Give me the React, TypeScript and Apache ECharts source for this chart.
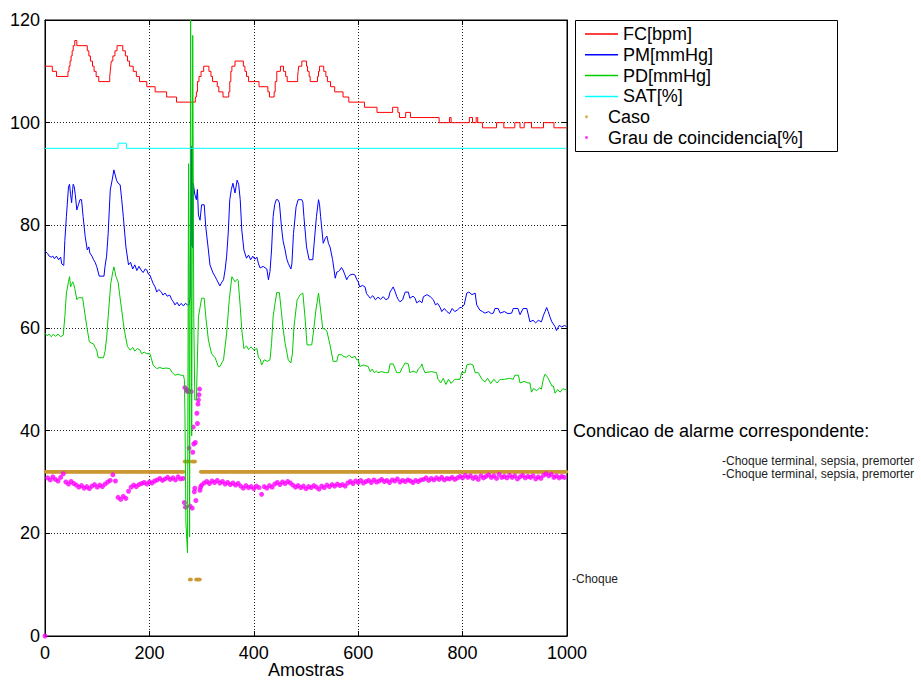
import React, { useEffect, useRef } from 'react';
import * as echarts from 'echarts';

const FONT = '"Liberation Sans", Arial, Helvetica, sans-serif';

// Axis ranges
const X_MIN = 0, X_MAX = 1000, X_INTERVAL = 200;
const Y_MIN = 0, Y_MAX = 120, Y_INTERVAL = 20;

const SERIES_NAMES = ['FC[bpm]', 'PM[mmHg]', 'PD[mmHg]', 'SAT[%]', 'Caso', 'Grau de coincidencia[%]'];

// FC: [sample, value held from this sample on]
const FC_STEPS: [number, number][] = [
  [0, 111], [14, 110], [22, 109], [44, 110], [46, 111], [48, 112], [50, 113], [52, 114], [54, 115], [57, 116], [61, 115],
  [81, 114], [84, 113], [87, 112], [91, 111], [94, 110], [98, 109], [103, 108], [124, 109], [125, 110], [126, 111],
  [127, 112], [130, 113], [134, 114], [138, 115], [149, 114], [154, 113], [158, 112], [162, 111], [169, 110], [175, 109],
  [181, 108], [195, 107], [211, 106], [233, 105], [252, 104], [288, 105], [290, 106], [292, 108], [295, 109], [299, 110],
  [304, 111], [314, 110], [318, 109], [321, 108], [330, 107], [333, 106], [341, 105], [352, 106], [354, 108], [356, 110],
  [358, 111], [364, 112], [380, 111], [383, 110], [386, 109], [390, 108], [410, 107], [427, 106], [430, 105], [439, 106],
  [441, 108], [444, 110], [451, 111], [457, 110], [461, 109], [464, 108], [484, 109], [485, 110], [486, 111], [492, 112],
  [501, 111], [503, 110], [506, 109], [508, 108], [522, 109], [524, 110], [526, 111], [534, 110], [538, 109], [541, 108],
  [547, 107], [555, 106], [571, 105], [582, 104], [612, 103], [636, 102], [666, 103], [676, 102], [679, 101], [691, 102],
  [700, 101], [755, 100], [775, 101], [778, 100], [813, 101], [819, 100], [826, 101], [829, 100], [838, 99], [865, 100],
  [879, 99], [900, 100], [910, 99], [918, 100], [932, 99], [955, 100], [975, 99], [999, 99],
];

// PM: [sample, value]
const PM_POINTS: [number, number][] = [
  [0, 75], [5, 74.5], [8, 74], [12, 73.8], [15, 74], [18, 73.5], [22, 74], [26, 73.3], [30, 73.8], [32, 72.5], [36, 72.2],
  [38, 77], [41, 81.7], [45, 87.5], [47, 88], [49, 86], [51, 84.4], [53, 87], [54, 88], [56, 87.5], [58, 86], [61, 83],
  [64, 84], [67, 85], [70, 85], [73, 81.7], [77, 77.8], [81, 75.2], [84, 75.8], [86, 74.6], [90, 74], [93, 73.3],
  [96, 72.8], [99, 72], [104, 70.1], [113, 70.1], [115, 72], [118, 74], [121, 78.4], [125, 86.9], [129, 89], [132, 90.8],
  [134, 90], [137, 88.8], [140, 88.2], [144, 87.9], [147, 85], [150, 81.7], [155, 75.8], [160, 72.3], [164, 72.8],
  [168, 71.5], [172, 72.3], [176, 71.2], [180, 72], [184, 71.3], [188, 70.8], [192, 71.5], [195, 71.3], [198, 70.5],
  [201, 70.3], [204, 69.5], [207, 68.7], [211, 68], [214, 67], [218, 67.5], [223, 67], [226, 66.4], [230, 66.8],
  [234, 66.2], [239, 66.4], [243, 65.5], [246, 65.1], [249, 64.5], [253, 65], [257, 64.3], [261, 64.8], [265, 64.3],
  [269, 64.8], [273, 64.5], [276, 64.5], [278, 66], [280, 95.4], [281, 76], [282, 95], [283, 75.6], [284, 88.2],
  [285, 88.2], [287, 86], [290, 85], [292, 87], [294, 82], [297, 81], [300, 84], [305, 84], [308, 79.7], [313, 75.2],
  [316, 72.3], [322, 70.7], [326, 70], [329, 69.4], [335, 68.2], [338, 68.8], [342, 69.4], [345, 71.3], [348, 74],
  [351, 78.5], [354, 85], [357, 87], [360, 88.2], [364, 86.3], [366, 87.5], [368, 88.8], [371, 88], [374, 85],
  [377, 79.1], [381, 75.2], [386, 73.6], [390, 74.2], [394, 73.3], [398, 74], [402, 73.4], [406, 73.8], [409, 72.5],
  [412, 71.7], [418, 72], [425, 71.5], [428, 69.4], [431, 71], [434, 75.2], [437, 81.7], [440, 84], [443, 85], [446, 85],
  [449, 84.4], [453, 79.7], [456, 77], [460, 75.2], [463, 73.5], [466, 72.6], [471, 71.5], [473, 72.5], [476, 78.4],
  [481, 83.6], [485, 85], [489, 85], [492, 85], [494, 84.5], [496, 81.7], [501, 75.8], [506, 73.3], [513, 73.3],
  [515, 75.8], [520, 81.7], [524, 85], [526, 84], [528, 81.7], [533, 76.5], [537, 77.5], [540, 77.9], [543, 76.5],
  [546, 75.8], [551, 73.3], [556, 69.7], [559, 70.9], [562, 71], [565, 71.3], [568, 71.8], [571, 71.3], [574, 70.5],
  [578, 69.4], [581, 70], [584, 70.3], [590, 70.5], [594, 70.3], [597, 69.5], [600, 69], [603, 68], [608, 68.3],
  [613, 68], [616, 66.7], [620, 66.2], [623, 65.8], [628, 66.3], [633, 65.5], [638, 66], [643, 65.6], [648, 66.1],
  [653, 65.5], [658, 65.8], [661, 67], [664, 67.5], [667, 68], [671, 67], [674, 66.1], [677, 65.5], [680, 65.1],
  [685, 65.5], [690, 67], [696, 67], [699, 65.8], [705, 66.2], [709, 65.8], [712, 64.9], [718, 65.3], [722, 64.9],
  [725, 66.1], [732, 66.5], [738, 66.1], [744, 65.5], [748, 64.5], [752, 64.8], [757, 64], [760, 63.2], [765, 63.8],
  [770, 63.2], [775, 62.8], [780, 63.8], [785, 63.2], [790, 63.5], [795, 64], [798, 64], [803, 64.5], [808, 66.8],
  [812, 67], [818, 66.5], [824, 66.8], [827, 64.5], [833, 63.5], [838, 63.2], [843, 62.9], [850, 63.2], [855, 62.8],
  [859, 62.9], [862, 63.8], [868, 63.8], [872, 62.9], [880, 63.2], [887, 62.8], [894, 62.9], [897, 63.8], [906, 63.8],
  [910, 62.6], [916, 63.8], [923, 63.8], [929, 61.2], [935, 61.5], [940, 61], [945, 61.5], [951, 61.2], [955, 62.5],
  [958, 63.2], [961, 64], [964, 63.2], [968, 62], [971, 61.2], [977, 60.3], [980, 59.5], [985, 60.5], [990, 60.2],
  [995, 60.5], [999, 60.3],
];

// PD: [sample, value]
const PD_POINTS: [number, number][] = [
  [0, 59], [4, 58.5], [8, 58.8], [12, 58.3], [16, 58.8], [20, 58.4], [25, 58.8], [30, 58.3], [35, 58.6], [38, 62.2],
  [41, 66.8], [45, 69], [47, 70], [49, 68], [51, 68.5], [53, 69], [55, 68.5], [57, 67.7], [61, 65.5], [64, 65.9],
  [72, 65.9], [75, 63.8], [80, 60.3], [85, 57.3], [90, 57], [93, 56.9], [96, 56.2], [99, 55.7], [102, 54.2], [112, 54.2],
  [115, 55.4], [118, 58], [121, 62.2], [126, 68.7], [130, 71], [132, 71.9], [134, 71], [136, 70], [140, 69], [143, 66.5],
  [147, 63.5], [150, 61], [153, 59], [158, 56.4], [163, 55.7], [168, 56.2], [172, 55.5], [177, 56], [182, 55.7],
  [185, 55], [190, 55.3], [195, 55], [201, 55], [204, 54], [207, 52.8], [214, 52.1], [220, 52.3], [226, 52.1],
  [232, 52.2], [239, 52.1], [243, 51.4], [249, 50.8], [255, 51], [260, 50.8], [265, 50.8], [267, 50], [268, 44],
  [270, 22], [273, 16.2], [275, 92], [276, 60], [277, 19.3], [279, 120], [281, 39], [283, 117], [285, 62], [287, 46],
  [290, 46], [294, 62.2], [297, 64], [300, 65.8], [305, 65.8], [308, 62.2], [313, 57.7], [319, 55], [326, 54.2],
  [332, 52.5], [335, 52.5], [342, 53.8], [348, 59], [353, 65.5], [358, 70], [361, 69.5], [364, 69], [368, 69.5],
  [370, 69.3], [374, 64.2], [377, 59.7], [381, 56], [386, 56.5], [390, 55.8], [395, 56.3], [400, 55.7], [406, 56],
  [409, 54.2], [412, 54], [415, 52.8], [420, 53.8], [426, 53.5], [431, 53.8], [434, 57], [437, 62.2], [441, 65],
  [444, 66.9], [449, 66.9], [453, 63], [456, 60], [460, 57], [466, 53.8], [471, 53.2], [474, 55], [477, 60.3],
  [483, 65.5], [486, 66], [489, 66.5], [494, 66.8], [498, 62.2], [502, 56.7], [511, 56.7], [514, 59], [519, 63.5],
  [524, 66.8], [528, 63.5], [532, 59.9], [536, 59.8], [540, 59.4], [546, 56.7], [552, 53.5], [559, 53.5], [562, 54.8],
  [568, 54.8], [571, 54.5], [577, 54.3], [583, 54.7], [588, 54.2], [594, 54.5], [597, 53.8], [600, 53.8], [603, 52.5],
  [610, 52.8], [619, 52.5], [623, 51.5], [627, 52], [631, 51.3], [635, 51.6], [638, 51.3], [645, 51.5], [652, 51.3],
  [658, 51.3], [661, 53], [667, 53], [671, 52], [674, 51.3], [680, 51.3], [684, 52.2], [686, 52.5], [690, 53.2],
  [696, 53], [699, 51.3], [705, 51.6], [712, 51.3], [715, 52], [720, 52.5], [722, 53], [725, 52], [728, 51.3],
  [740, 51.5], [750, 51.3], [753, 50], [758, 49.3], [763, 50.2], [768, 49], [773, 50], [778, 49.2], [785, 50],
  [789, 50], [795, 50], [798, 51.3], [805, 51.3], [808, 52.8], [815, 53], [820, 52.8], [824, 51.3], [830, 51.3],
  [837, 50], [843, 49.5], [848, 50.2], [854, 49.2], [860, 50], [866, 49.3], [872, 50], [880, 50], [890, 50.2],
  [897, 50], [900, 50.8], [907, 50.8], [910, 49.3], [918, 49.6], [925, 49.3], [929, 49.3], [932, 47.5], [936, 48.2],
  [942, 47.8], [947, 48.3], [951, 48.1], [955, 50.2], [958, 51], [962, 50.5], [964, 50.2], [971, 48.7], [974, 48.7],
  [977, 47.3], [982, 48], [987, 47.5], [992, 48.2], [996, 48], [999, 48],
];

// SAT: [sample, value held from this sample on]
const SAT_STEPS: [number, number][] = [[0, 95], [140, 96], [156, 95], [999, 95]];

// Caso: runs [first sample, last sample, value]
const CASO_RUNS: [number, number, number][] = [
  [1, 266, 32], [267, 276, 34], [277, 280, 11], [281, 288, 34], [289, 297, 11], [298, 999, 32],
];

// Grau de coincidencia: one reading every 5 samples before and after the event
const GRAU_SAMPLE_STEP = 5;
const GRAU_BEFORE_START = 5;
const GRAU_BEFORE: number[] = [
  30.8, 30.4, 31.0, 30.5, 30.2, 30.9, 31.6, 30.0, 29.6, 30.1, 29.7, 29.4, 29.0, 29.3, 28.8, 29.1, 28.7, 29.2, 29.5, 29.0,
  29.4, 29.1, 29.6, 30.0, 30.3, 31.4, 30.2, 27.0, 26.6, 27.2, 26.8, 28.2, 29.0, 29.4, 29.1, 29.5, 29.7, 29.9, 29.6, 30.0,
  29.8, 30.2, 30.4, 30.7, 30.3, 30.6, 30.9, 30.5, 30.8, 30.4, 31.0, 30.6, 30.7,
];
const GRAU_EVENT: [number, number][] = [
  [0, 0], [267, 26.0], [268, 48.4], [269, 25.1], [271, 48.0], [273, 47.6], [275, 47.8], [276, 36.6], [278, 25.3],
  [280, 47.6], [282, 24.9], [283, 35.8], [284, 40.7], [285, 37.4], [286, 28.1], [287, 28.8], [288, 37.7], [289, 26.4],
  [291, 43.4], [292, 41.4], [293, 45.2], [294, 46.0], [295, 47.0], [296, 48.1], [297, 28.4], [298, 29.0],
];
const GRAU_AFTER_START = 300;
const GRAU_AFTER: number[] = [
  29.4, 29.8, 30.1, 29.7, 30.2, 29.9, 30.3, 29.8, 30.1, 29.6, 29.9, 29.5, 29.8, 29.4, 29.7, 29.2, 28.8, 29.3, 28.9, 29.1,
  28.7, 29.2, 28.9, 27.6, 29.1, 28.8, 29.3, 29.0, 29.6, 29.9, 29.5, 30.0, 29.7, 30.1, 29.8, 29.4, 29.0, 29.3, 28.9, 29.2,
  28.7, 29.1, 28.9, 29.3, 29.0, 28.6, 29.2, 28.9, 29.4, 29.1, 29.5, 29.2, 29.6, 29.3, 29.5, 29.2, 29.8, 30.1, 29.7, 30.2,
  29.9, 30.3, 29.8, 30.1, 30.3, 29.9, 30.4, 30.0, 30.2, 30.5, 30.1, 30.3, 29.9, 30.4, 30.2, 30.6, 30.0, 30.3, 30.1, 30.4,
  30.2, 29.9, 30.3, 30.1, 30.4, 30.5, 30.8, 30.3, 30.7, 30.4, 30.8, 30.5, 30.9, 30.4, 30.7, 30.6, 30.9, 30.5, 30.8, 31.1,
  30.8, 31.3, 30.9, 31.2, 30.7, 31.0, 30.5, 31.2, 30.8, 31.1, 31.4, 30.9, 31.2, 30.7, 31.5, 30.9, 31.1, 30.8, 31.3, 30.9,
  31.2, 30.6, 31.0, 31.3, 30.8, 31.1, 30.9, 31.2, 30.6, 31.0, 30.7, 31.3, 31.6, 31.2, 31.5, 30.9, 31.2, 30.8, 31.1, 30.9,
];

// Annotations
const ALARM_TITLE = 'Condicao de alarme correspondente:';
const ALARM_LINES = ['-Choque terminal, sepsia, premorter', '-Choque terminal, sepsia, premorter'];
const ALARM_LOW = '-Choque';

const COLORS = ['#ff0000', '#0000ff', '#00cc00', '#00ffff', '#cc9933', '#ff00ff'];

function buildCaso(): [number, number][] {
  const out: [number, number][] = [];
  for (const [a, b, v] of CASO_RUNS) {
    for (let x = a; x <= b; x++) out.push([x, v]);
  }
  return out;
}

function buildGrau(): [number, number][] {
  const out: [number, number][] = [];
  GRAU_BEFORE.forEach((v, i) => out.push([GRAU_BEFORE_START + i * GRAU_SAMPLE_STEP, v]));
  GRAU_EVENT.forEach((p) => out.push(p));
  GRAU_AFTER.forEach((v, i) => out.push([GRAU_AFTER_START + i * GRAU_SAMPLE_STEP, v]));
  return out;
}

function smallText(text: string, x: number, y: number) {
  return {
    type: 'text', x, y,
    style: {
      text, fill: '#222', font: `12px ${FONT}`,
      textAlign: 'left', textVerticalAlign: 'middle', align: 'left', verticalAlign: 'middle',
    },
    silent: true,
  };
}

export default function App() {
  const ref = useRef<HTMLDivElement>(null);

  useEffect(() => {
    if (!ref.current) return;
    const chart = echarts.init(ref.current, undefined, { renderer: 'svg' });
    const textBase = { color: '#000', fontFamily: FONT, fontSize: 18 };
    const baseAxisX = {
      type: 'value' as const,
      min: X_MIN,
      max: X_MAX,
      interval: X_INTERVAL,
      axisLine: { show: true, onZero: false, lineStyle: { color: '#000', width: 1 } },
      axisTick: { show: true, inside: true, length: 5, lineStyle: { color: '#000', width: 1 } },
    };
    const baseAxisY = {
      type: 'value' as const,
      min: Y_MIN,
      max: Y_MAX,
      interval: Y_INTERVAL,
      axisLine: { show: true, onZero: false, lineStyle: { color: '#000', width: 1 } },
      axisTick: { show: true, inside: true, length: 5, lineStyle: { color: '#000', width: 1 } },
    };
    const gridLine = { show: true, lineStyle: { color: '#222', width: 1, type: [1, 2] } };

    const option: any = {
      animation: false,
      backgroundColor: '#ffffff',
      textStyle: { fontFamily: FONT },
      grid: {
        left: 45, right: 354, top: 20, bottom: 45,
        show: true, borderColor: '#000', borderWidth: 1, backgroundColor: '#fff',
        containLabel: false, outerBoundsMode: 'none',
      },
      xAxis: [
        {
          ...baseAxisX,
          position: 'bottom',
          axisLabel: { ...textBase, margin: 8, formatter: (v: number) => String(v) },
          splitLine: gridLine,
          name: 'Amostras',
          nameLocation: 'middle',
          nameGap: 25,
          nameMoveOverlap: false,
          nameTextStyle: { ...textBase, verticalAlign: 'top', lineHeight: 18 },
        },
        {
          ...baseAxisX,
          position: 'top',
          axisLabel: { show: false },
          splitLine: { show: false },
        },
      ],
      yAxis: [
        {
          ...baseAxisY,
          position: 'left',
          axisLabel: { ...textBase, margin: 5 },
          splitLine: gridLine,
        },
        {
          ...baseAxisY,
          position: 'right',
          axisLabel: { show: false },
          splitLine: { show: false },
        },
      ],
      legend: [
        {
          orient: 'vertical', left: 585, top: 25, padding: 0,
          itemWidth: 33, itemHeight: 1.5, itemGap: 2.8, icon: 'rect',
          selectedMode: false,
          textStyle: { ...textBase },
          data: SERIES_NAMES.slice(0, 4),
        },
        {
          orient: 'vertical', left: 585, top: 107.7, padding: 0,
          itemWidth: 33, itemHeight: 3, itemGap: 2.8, icon: 'circle',
          selectedMode: false,
          textStyle: { ...textBase },
          data: SERIES_NAMES.slice(4),
        },
      ],
      graphic: [
        {
          type: 'rect', z: 0,
          shape: { x: 575.5, y: 20.5, width: 262, height: 131 },
          style: { fill: '#fff', stroke: '#000', lineWidth: 1 },
          silent: true,
        },
        {
          type: 'text', x: 573, y: 431,
          style: { text: ALARM_TITLE, fill: '#000', font: `18px ${FONT}`, textAlign: 'left', textVerticalAlign: 'middle', align: 'left', verticalAlign: 'middle' },
          silent: true,
        },
        smallText(ALARM_LINES[0], 722, 460.5),
        smallText(ALARM_LINES[1], 722, 473.5),
        smallText(ALARM_LOW, 572, 579),
      ],
      series: [
        {
          name: SERIES_NAMES[0], type: 'line', step: 'end', data: FC_STEPS, symbol: 'none',
          color: COLORS[0], lineStyle: { color: COLORS[0], width: 1 }, xAxisIndex: 0, yAxisIndex: 0,
        },
        {
          name: SERIES_NAMES[1], type: 'line', data: PM_POINTS, symbol: 'none',
          color: COLORS[1], lineStyle: { color: COLORS[1], width: 1 }, xAxisIndex: 0, yAxisIndex: 0,
        },
        {
          name: SERIES_NAMES[2], type: 'line', data: PD_POINTS, symbol: 'none',
          color: COLORS[2], lineStyle: { color: COLORS[2], width: 1 }, xAxisIndex: 0, yAxisIndex: 0,
        },
        {
          name: SERIES_NAMES[3], type: 'line', step: 'end', data: SAT_STEPS, symbol: 'none',
          color: COLORS[3], lineStyle: { color: COLORS[3], width: 1 }, xAxisIndex: 0, yAxisIndex: 0,
        },
        {
          name: SERIES_NAMES[4], type: 'scatter', data: buildCaso(), symbol: 'circle', symbolSize: 3.5,
          color: COLORS[4], itemStyle: { color: COLORS[4] }, xAxisIndex: 0, yAxisIndex: 0,
        },
        {
          name: SERIES_NAMES[5], type: 'scatter', data: buildGrau(), symbol: 'circle', symbolSize: 5,
          color: COLORS[5], itemStyle: { color: COLORS[5] }, xAxisIndex: 0, yAxisIndex: 0,
        },
      ],
    };
    chart.setOption(option);
    return () => chart.dispose();
  }, []);

  return (
    <div
      ref={ref}
      style={{ position: 'fixed', left: 0, top: 0, width: 921, height: 681, background: '#fff' }}
    />
  );
}
